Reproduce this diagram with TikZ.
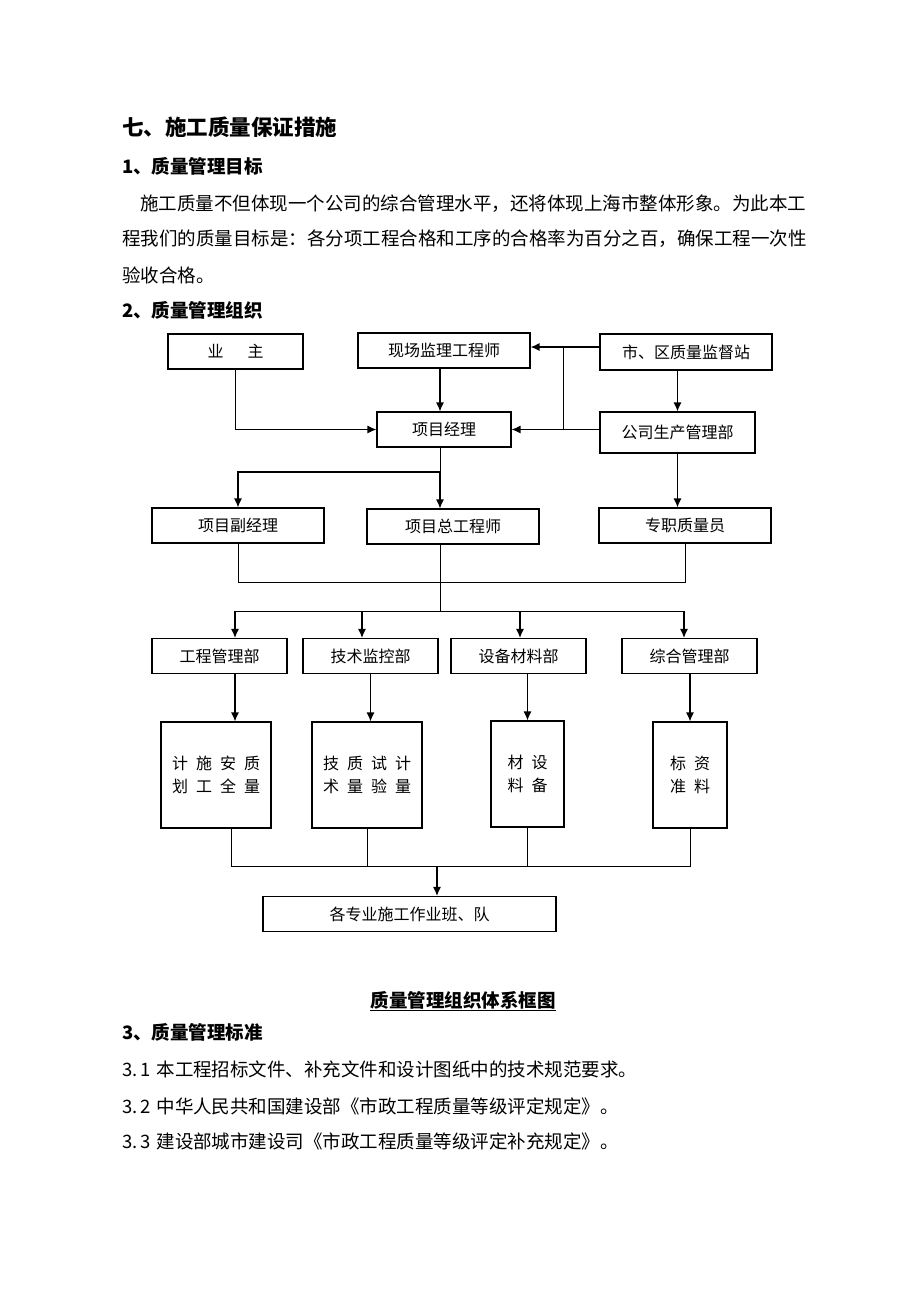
\documentclass[tikz,border=0pt]{standalone}
\usepackage{fontspec}
\setmainfont{Noto Sans CJK SC}
\usetikzlibrary{arrows.meta}

\newcommand{\gap}{\hspace{8pt}}

\begin{document}
\begin{tikzpicture}[x=1pt,y=-1pt]
  \tikzset{box/.style = {draw, line width=1.1pt, inner sep=0pt, minimum height=35pt, font=\fontsize{16}{23}\selectfont}}
  \tikzset{tall/.style = {box, align=center, minimum height=106pt}}
  \tikzset{txt/.style = {anchor=west, inner sep=0pt, font=\fontsize{18.5}{22}\selectfont}}
  \tikzset{head/.style = {txt, font=\fontsize{18.5}{22}\selectfont\bfseries}}
  \tikzset{link/.style = {line width=0.9pt}}
  \tikzset{arr/.style = {line width=1.3pt, -{Latex[length=9pt,width=8pt]}}}

\fill[white] (0,0) rectangle (920,1302);
\useasboundingbox (0,0) rectangle (920,1302);

% text above the chart
\node[head, font=\fontsize{21.5}{26}\selectfont\bfseries] (title) at (122,127) {七、施工质量保证措施};
\node[head] (h1) at (122,166) {1、质量管理目标};
\node[txt] (p1) at (140,204) {施工质量不但体现一个公司的综合管理水平，还将体现上海市整体形象。为此本工};
\node[txt] (p2) at (122,239) {程我们的质量目标是：各分项工程合格和工序的合格率为百分之百，确保工程一次性};
\node[txt] (p3) at (122,275) {验收合格。};
\node[head] (h2) at (122,310) {2、质量管理组织};

% chart boxes
\node[box, minimum width=135pt] (yezhu) at (235.5,351.5) {业\hspace{24pt}主};
\node[box, minimum width=172pt] (jianli) at (444,350.5) {现场监理工程师};
\node[box, minimum width=172pt, minimum height=36pt] (zhan) at (686,352) {市、区质量监督站};
\node[box, minimum width=134pt] (jingli) at (444,429.5) {项目经理};
\node[box, minimum width=155pt, minimum height=41pt] (gongsi) at (677.5,432.5) {公司生产管理部};

\node[box, minimum width=172pt] (fujl) at (238,525.5) {项目副经理};
\node[box, minimum width=172pt] (zonggong) at (453,526.5) {项目总工程师};
\node[box, minimum width=172pt] (zhiyuan) at (685,525.5) {专职质量员};

\node[box, minimum width=135pt] (gcb) at (219.5,656) {工程管理部};
\node[box, minimum width=135pt] (jsb) at (370.5,656) {技术监控部};
\node[box, minimum width=135pt] (sbb) at (518.5,656) {设备材料部};
\node[box, minimum width=135pt] (zhb) at (689.5,656) {综合管理部};

\node[tall, minimum width=110pt] (jihua) at (216,775) {计\gap 施\gap 安\gap 质\\划\gap 工\gap 全\gap 量};
\node[tall, minimum width=110pt] (jishu) at (367,775) {技\gap 质\gap 试\gap 计\\术\gap 量\gap 验\gap 量};
\node[tall, minimum width=73pt] (cailiao) at (527.5,774) {材\gap 设\\料\gap 备};
\node[tall, minimum width=74pt] (biaozhun) at (690,775) {标\gap 资\\准\gap 料};

\node[box, minimum width=293pt] (banzu) at (409.5,914) {各专业施工作业班、队};

% helper points
\coordinate (mid) at (440,0);
\coordinate (sp) at (563,347);
\coordinate (b1) at (440,472);
\coordinate (m1) at (440,582);
\coordinate (m2) at (440,611);
\coordinate (d1) at (235,611);
\coordinate (d2) at (362,611);
\coordinate (d3) at (520,611);
\coordinate (d4) at (684,611);
\coordinate (m3) at (437,866);

% connectors, top part
\draw[arr] (yezhu.south) |- (jingli.west);
\draw[arr] (jianli.south -| mid) -- (jingli.north -| mid);
\draw[arr] (zhan.west |- sp) -- (jianli.east |- sp);
\draw[link] (sp) -- (sp |- jingli.east);
\draw[arr] (gongsi.west |- jingli.east) -- (jingli.east);
\draw[arr] (zhan.south -| gongsi.north) -- (gongsi.north);

\draw[link] (jingli.south -| mid) -- (b1);
\draw[arr] (b1) -- (zonggong.north -| mid);
\draw[arr] (b1) -| (fujl.north);
\draw[arr] (gongsi.south) -- (gongsi.south |- zhiyuan.north);

% gather and split
\draw[link] (fujl.south) |- (zhiyuan.south |- m1) -- (zhiyuan.south);
\draw[link] (zonggong.south -| mid) -- (m2);
\draw[link] (d1) -- (d4);
\draw[arr] (d1) -- (d1 |- gcb.north);
\draw[arr] (d2) -- (d2 |- jsb.north);
\draw[arr] (d3) -- (d3 |- sbb.north);
\draw[arr] (d4) -- (d4 |- zhb.north);

\draw[arr] (d1 |- gcb.south) -- (d1 |- jihua.north);
\draw[arr] (jsb.south) -- (jsb.south |- jishu.north);
\draw[arr] (sbb.south -| cailiao.north) -- (cailiao.north);
\draw[arr] (zhb.south -| biaozhun.north) -- (biaozhun.north);

% bottom gather
\draw[link] ([xshift=15pt]jihua.south) |- (biaozhun.south |- m3) -- (biaozhun.south);
\draw[link] (jishu.south) -- (jishu.south |- m3);
\draw[link] (cailiao.south) -- (cailiao.south |- m3);
\draw[arr] (m3) -- (m3 |- banzu.north);

% caption and text below
\node[head, anchor=center] (cap) at (463,1000) {质量管理组织体系框图};
\draw[link] ([yshift=-1pt]cap.south west) -- ([yshift=-1pt]cap.south east);
\node[head] (h3) at (122,1032) {3、质量管理标准};
\node[txt] (s1) at (122,1069) {3.\,1\hspace{0.3em}本工程招标文件、补充文件和设计图纸中的技术规范要求。};
\node[txt] (s2) at (122,1106) {3.\,2\hspace{0.3em}中华人民共和国建设部《市政工程质量等级评定规定》。};
\node[txt] (s3) at (122,1141) {3.\,3\hspace{0.3em}建设部城市建设司《市政工程质量等级评定补充规定》。};

\end{tikzpicture}
\end{document}
